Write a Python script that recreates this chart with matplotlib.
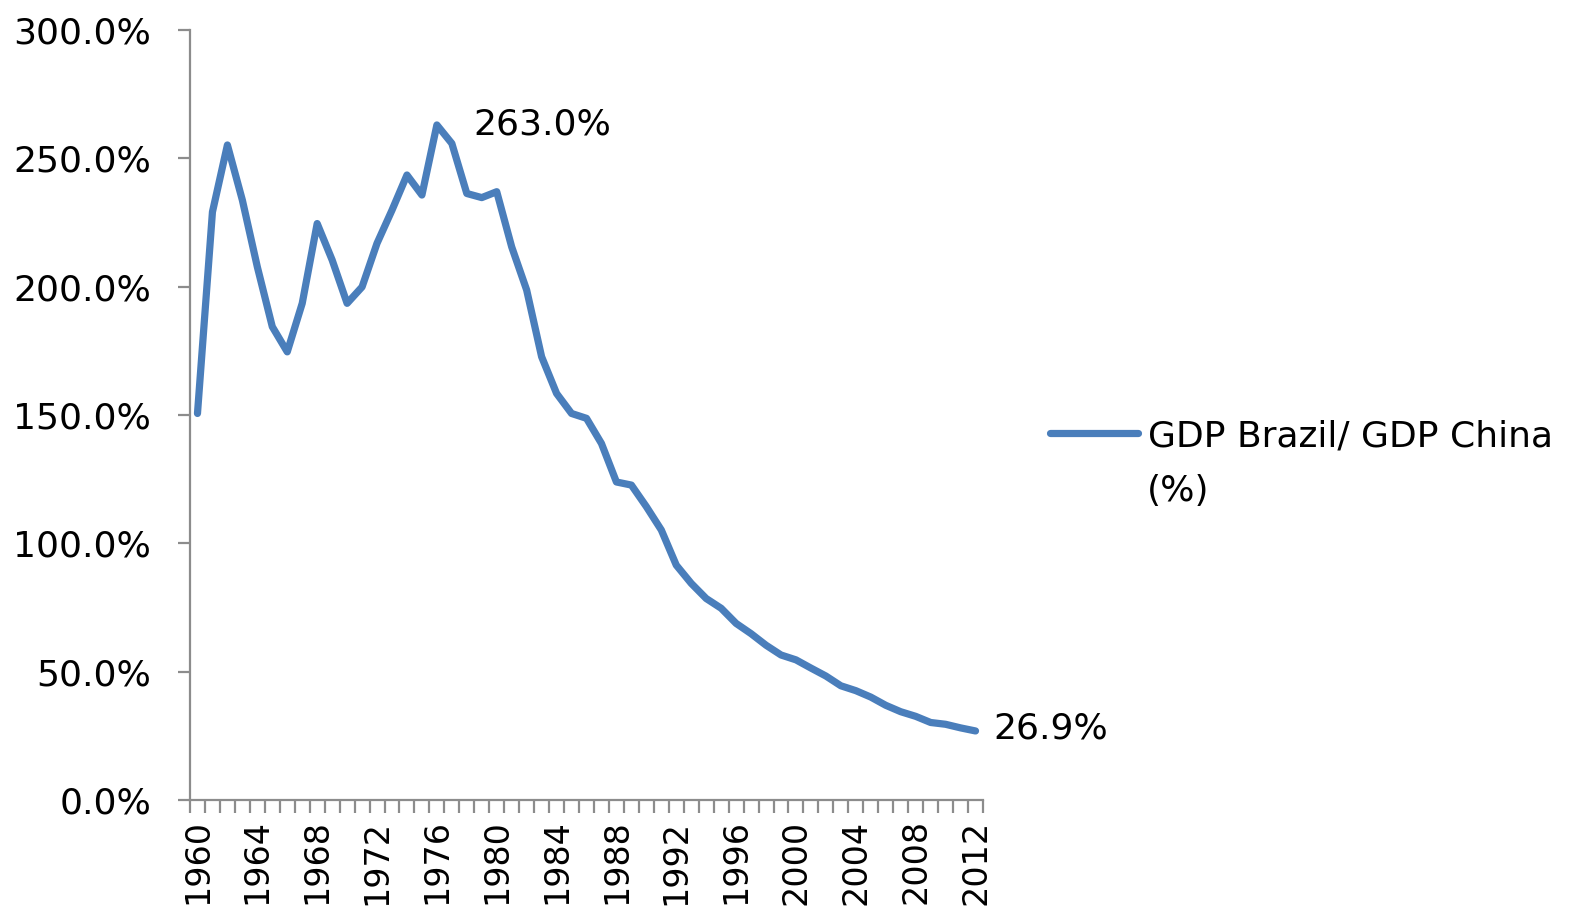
import matplotlib
matplotlib.use("Agg")
import matplotlib.pyplot as plt
import numpy as np
from matplotlib.ticker import FixedLocator, FuncFormatter

# ---------------------------------------------------------------------------
# Data: GDP Brazil / GDP China (%)
# ---------------------------------------------------------------------------

years = list(range(1960, 2013))
ratio_pct = [
    150.6, 229.1, 255.2, 233.7, 207.7, 184.4, 174.6, 193.5, 224.6, 210.4,
    193.5, 199.9, 216.9, 229.8, 243.5, 235.7, 263.0, 255.8, 236.3, 234.7,
    237.0, 215.5, 198.7, 172.7, 158.4, 150.6, 148.7, 138.9, 123.9, 122.7,
    114.3, 105.2, 91.5, 84.4, 78.5, 74.7, 68.8, 64.8, 60.3, 56.5,
    54.6, 51.4, 48.3, 44.5, 42.6, 40.1, 36.9, 34.4, 32.6, 30.2,
    29.5, 28.1, 26.9,
]
label_years = years[::4]
y_ticks = [0, 50, 100, 150, 200, 250, 300]
series_name = "GDP Brazil/ GDP China"
series_unit = "(%)"

# ---------------------------------------------------------------------------
# Style
# ---------------------------------------------------------------------------

LINE_COLOR = "#4a7ebb"
AXIS_COLOR = "#8c8c8c"
FS = 26

plt.rcParams["font.family"] = ["DejaVu Sans"]

fig = plt.figure(figsize=(15.7, 9.22), dpi=100)
ax = fig.add_axes([190 / 1570, 1 - 800 / 922, (983 - 190) / 1570, (800 - 30) / 922])

ax.plot(years, ratio_pct, color=LINE_COLOR, linewidth=5.2,
        solid_joinstyle="round", solid_capstyle="round", label=series_name)

ax.set_xlim(years[0] - 0.5, years[-1] + 0.5)
ax.set_ylim(0, 300)

# y axis
ax.set_yticks(y_ticks)
ax.yaxis.set_major_formatter(FuncFormatter(lambda v, _: f"{v:.1f}%"))
ax.tick_params(axis="y", direction="out", length=9, width=1.6,
               color=AXIS_COLOR, labelsize=FS, pad=19)

# x axis: tick marks between categories, labels every 4 years
ax.xaxis.set_major_locator(FixedLocator(label_years))
ax.xaxis.set_minor_locator(FixedLocator([y - 0.5 for y in years] + [years[-1] + 0.5]))
ax.set_xticklabels([str(y) for y in label_years], rotation=90)
ax.tick_params(axis="x", which="major", length=0, labelsize=24, pad=14)
ax.tick_params(axis="x", which="minor", direction="out", length=9, width=1.6,
               color=AXIS_COLOR)

for side in ["top", "right"]:
    ax.spines[side].set_visible(False)
for side in ["left", "bottom"]:
    ax.spines[side].set_color(AXIS_COLOR)
    ax.spines[side].set_linewidth(1.6)

# data labels for peak and last value
i_peak = int(np.argmax(ratio_pct))
ax.annotate(f"{ratio_pct[i_peak]:.1f}%", (years[i_peak], ratio_pct[i_peak]),
            textcoords="offset points", xytext=(26, 0), ha="left", va="center",
            fontsize=FS)
ax.annotate(f"{ratio_pct[-1]:.1f}%", (years[-1], ratio_pct[-1]),
            textcoords="offset points", xytext=(13, 2), ha="left", va="center",
            fontsize=FS)

# legend (two-line label, handle aligned with first line as in the original)
fig.legend(loc="center left", bbox_to_anchor=(1050 / 1570, 1 - 436 / 922),
           frameon=False, fontsize=FS, handlelength=2.45, handletextpad=0.25,
           borderpad=0, borderaxespad=0)
fig.text(1147 / 1570, 1 - 491 / 922, series_unit, fontsize=FS,
         ha="left", va="center")

fig.savefig("out.png", dpi=100)
plt.close(fig)
